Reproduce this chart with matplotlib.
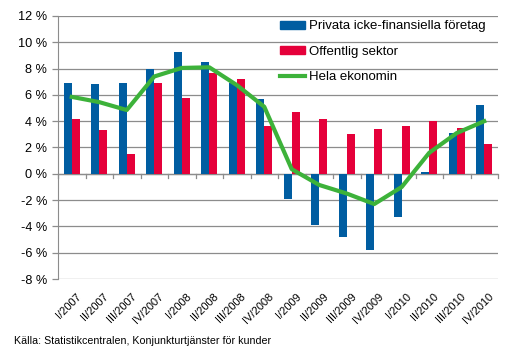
import matplotlib
matplotlib.use("Agg")
import matplotlib.pyplot as plt
import numpy as np
from matplotlib.patches import Patch
from matplotlib.lines import Line2D

plt.rcParams['font.family'] = ['Liberation Sans', 'DejaVu Sans']

categories = ["I/2007", "II/2007", "III/2007", "IV/2007",
              "I/2008", "II/2008", "III/2008", "IV/2008",
              "I/2009", "II/2009", "III/2009", "IV/2009",
              "I/2010", "II/2010", "III/2010", "IV/2010"]
privata = [6.9, 6.8, 6.9, 8.0, 9.3, 8.5, 6.9, 5.7,
           -1.9, -3.9, -4.8, -5.8, -3.3, 0.1, 3.1, 5.2]
offentlig = [4.2, 3.3, 1.5, 6.9, 5.8, 7.7, 7.2, 3.6,
             4.7, 4.2, 3.0, 3.4, 3.6, 4.0, 3.5, 2.3]
hela = [5.85, 5.45, 4.85, 7.4, 8.05, 8.1, 6.75, 5.1,
        0.35, -0.85, -1.5, -2.3, -1.0, 1.6, 3.1, 4.0]
yticks = [-8, -6, -4, -2, 0, 2, 4, 6, 8, 10, 12]
source = "Källa: Statistikcentralen, Konjunkturtjänster för kunder"

blue = "#005DA1"
red = "#E5003A"
green = "#3DB23A"
grid = "#8C8C8C"

fig = plt.figure(figsize=(5.13, 3.53), dpi=100)
ax = fig.add_axes([58/513, 1-279/353, 440/513, 263/353])

x = np.arange(len(categories))
w = 0.29
ax.bar(x - w/2, privata, w, color=blue, zorder=2)
ax.bar(x + w/2, offentlig, w, color=red, zorder=2)
ax.plot(x, hela, color=green, lw=3, zorder=3)

ax.set_xlim(-0.5, len(categories) - 0.5)
ax.set_ylim(-8, 12)
ax.set_yticks(yticks)
ax.set_yticklabels([f"{v} %" for v in yticks], fontsize=9.2)
ax.yaxis.grid(True, color=grid, lw=0.9, zorder=0)
ax.set_axisbelow(True)

for s in ["top", "right", "bottom"]:
    ax.spines[s].set_visible(False)
ax.spines["left"].set_color(grid)
ax.tick_params(axis="y", colors=grid, length=4, width=0.9, labelcolor="black", pad=4)

# zero line with category-boundary ticks
ax.axhline(0, color=grid, lw=0.9, zorder=1)
for b in np.arange(-0.5, len(categories), 1.0):
    ax.plot([b, b], [0, -0.3], color=grid, lw=0.9, zorder=1, clip_on=False)

ax.set_xticks(x)
ax.set_xticklabels([])
ax.tick_params(axis="x", length=0)
for xi, lab in zip(x, categories):
    ax.text(xi + 0.15, -8.95, lab, rotation=45, ha="right", va="top",
            fontsize=8, rotation_mode="anchor")

handles = [Patch(color=blue), Patch(color=red), Line2D([0], [0], color=green, lw=3)]
labels = ["Privata icke-finansiella företag", "Offentlig sektor", "Hela ekonomin"]
leg = ax.legend(handles, labels, loc="upper left", bbox_to_anchor=(0.505, 0.983),
                frameon=False, fontsize=9.5, handlelength=1.9, handleheight=0.55,
                handletextpad=0.3, labelspacing=1.0, borderaxespad=0, borderpad=0)

fig.text(14/513, 1-341/353, source, fontsize=7.7, va="center", ha="left")

fig.savefig("out.png", dpi=100)
